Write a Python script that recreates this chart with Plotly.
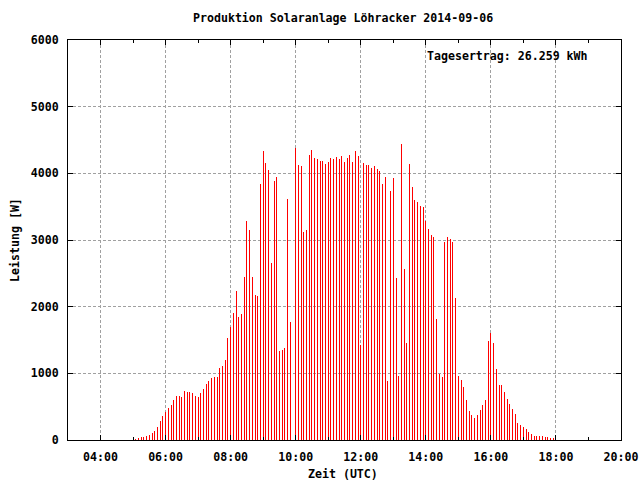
import pandas as pd
import plotly.graph_objects as go

# Data: power readings every 5 minutes, 05:00 .. 18:00 UTC
start_time = "2014-09-06 05:00"
end_time = "2014-09-06 18:00"
interval = "5min"
power_w = [
    30, 15, 30, 40, 45, 55, 75, 105, 135, 195,
    285, 360, 420, 485, 525, 600, 660, 660, 650, 735,
    720, 720, 700, 660, 645, 710, 765, 840, 885, 930,
    945, 945, 1080, 1110, 1200, 1530, 1695, 1905, 2235, 1845,
    1890, 2445, 3285, 3150, 2445, 2175, 2160, 3840, 4335, 4155,
    4050, 2655, 3885, 3945, 1335, 1350, 1380, 3615, 1770, 2025,
    4380, 4125, 4110, 3120, 3150, 4275, 4350, 4230, 4215, 4185,
    4185, 4140, 4170, 4230, 4215, 4245, 4215, 4260, 4170, 4230,
    4275, 4170, 4335, 4260, 1425, 4155, 4125, 4125, 4080, 4110,
    4065, 4035, 3840, 3945, 885, 3735, 3930, 2430, 960, 4440,
    2565, 1455, 4140, 3795, 3600, 3570, 3510, 3495, 3285, 3165,
    3075, 3045, 1815, 990, 945, 2970, 3045, 3015, 2970, 2130,
    960, 900, 795, 600, 435, 375, 330, 375, 450, 525,
    600, 1485, 1605, 1455, 1065, 825, 825, 720, 615, 540,
    465, 390, 255, 225, 195, 165, 120, 90, 60, 60,
    60, 60, 45, 45, 30, 30, 60,
]
times = pd.date_range(start_time, end_time, freq=interval)

title_text = "Produktion Solaranlage Löhracker 2014-09-06"
yield_text = "Tagesertrag: 26.259 kWh"
x_title = "Zeit (UTC)"
y_title = "Leistung [W]"
y_ticks = [0, 1000, 2000, 3000, 4000, 5000, 6000]

colors = ["#ff0000"] * len(power_w)
colors[0] = "#000000"
colors[-1] = "#000000"

FONT = "DejaVu Sans Mono"

fig = go.Figure(
    go.Bar(
        x=times,
        y=power_w,
        width=110000,
        marker=dict(color=colors, line=dict(width=0)),
        showlegend=False,
    )
)

fig.update_layout(
    width=640,
    height=480,
    margin=dict(l=68, r=19, t=40, b=40),
    paper_bgcolor="white",
    plot_bgcolor="white",
    font=dict(family=FONT, size=11.6, color="black"),
    bargap=0,
    annotations=[
        dict(text="<b>" + title_text + "</b>", xref="paper", yref="paper",
             x=0.497, y=1.055, xanchor="center", yanchor="middle",
             showarrow=False, font=dict(family=FONT, size=11.6)),
        dict(text="<b>" + yield_text + "</b>", xref="paper", yref="paper",
             x=0.646, y=0.96, xanchor="left", yanchor="middle",
             showarrow=False, font=dict(family=FONT, size=11.6)),
        dict(text="<b>" + x_title + "</b>", xref="paper", yref="paper",
             x=0.497, y=-0.085, xanchor="center", yanchor="middle",
             showarrow=False, font=dict(family=FONT, size=11.6)),
        dict(text="<b>" + y_title + "</b>", xref="paper", yref="paper",
             x=-0.096, y=0.5, xanchor="center", yanchor="middle",
             textangle=-90, showarrow=False, font=dict(family=FONT, size=11.6)),
    ],
)

fig.update_xaxes(
    type="date",
    range=["2014-09-06 03:00", "2014-09-06 20:00"],
    tick0="2014-09-06 04:00",
    dtick=2 * 3600 * 1000,
    tickformat="%H:%M",
    tickfont=dict(family=FONT, size=11.6, weight="bold"),
    ticks="inside",
    ticklen=5,
    tickcolor="black",
    ticklabelstandoff=6,
    showline=True,
    linecolor="black",
    linewidth=1,
    mirror="ticks",
    showgrid=True,
    gridcolor="#a0a0a0",
    griddash="3px,2px",
    gridwidth=1,
    zeroline=False,
    automargin=False,
    minor=dict(dtick=3600 * 1000, tick0="2014-09-06 03:00", ticks="inside",
               ticklen=3, tickcolor="black", showgrid=False),
)

fig.update_yaxes(
    range=[0, 6000],
    tickvals=y_ticks,
    ticktext=[str(v) for v in y_ticks],
    tickfont=dict(family=FONT, size=11.6, weight="bold"),
    ticks="inside",
    ticklen=5,
    tickcolor="black",
    ticklabelstandoff=6,
    showline=True,
    linecolor="black",
    linewidth=1,
    mirror="ticks",
    showgrid=True,
    gridcolor="#a0a0a0",
    griddash="3px,2px",
    gridwidth=1,
    zeroline=False,
    automargin=False,
)

fig.write_html(
    "out.html",
    config={"staticPlot": True, "displayModeBar": False},
    post_script="document.body.style.margin='0';document.body.style.padding='0';",
)
